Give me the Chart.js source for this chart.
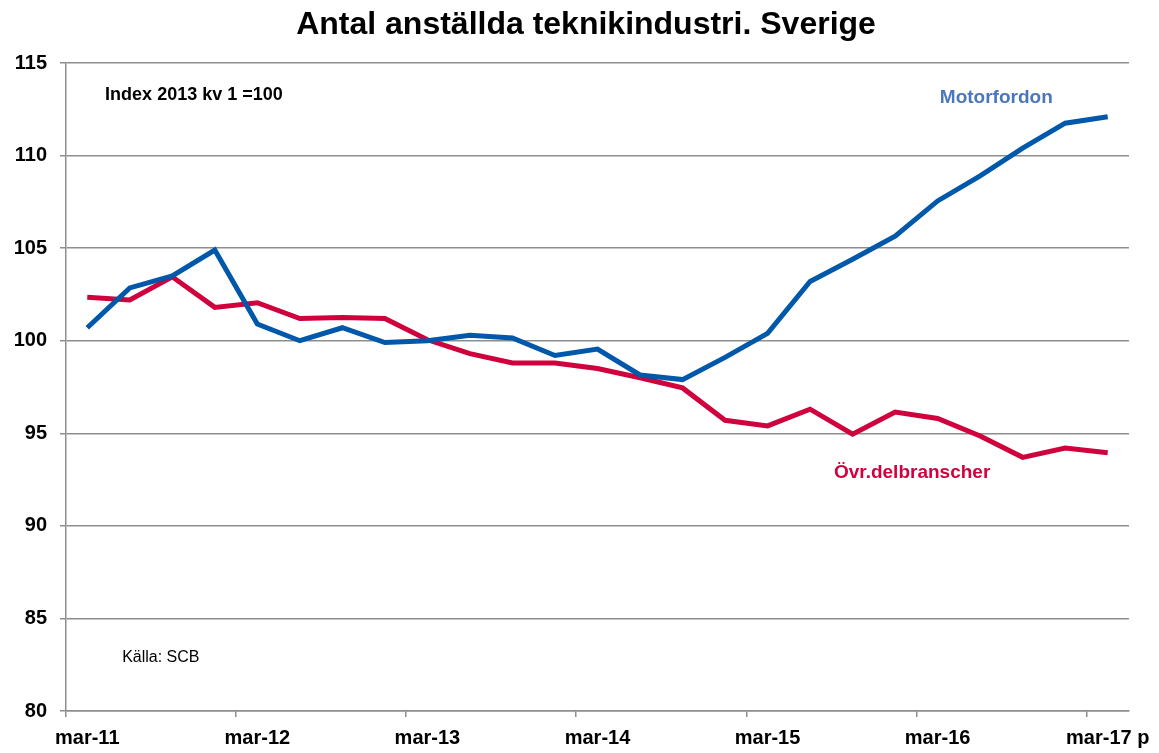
<!DOCTYPE html>
<html>
<head>
<meta charset="utf-8">
<script src="https://cdn.jsdelivr.net/npm/chart.js@4.4.0/dist/chart.umd.min.js"></script>
<style>
  html, body { margin: 0; padding: 0; background: #fff; }
  #wrap { width: 1159px; height: 753px; }
</style>
</head>
<body>
<div id="wrap"><canvas id="chart" width="1159" height="753"></canvas></div>
<script>
// Kvartal mar-11 .. mar-17 (p = preliminärt)
const quarters = [
  'mar-11', 'jun-11', 'sep-11', 'dec-11',
  'mar-12', 'jun-12', 'sep-12', 'dec-12',
  'mar-13', 'jun-13', 'sep-13', 'dec-13',
  'mar-14', 'jun-14', 'sep-14', 'dec-14',
  'mar-15', 'jun-15', 'sep-15', 'dec-15',
  'mar-16', 'jun-16', 'sep-16', 'dec-16',
  'mar-17 p',
];

// Index 2013 kv 1 = 100
const motorfordon = [
  100.7, 102.85, 103.5, 104.9,
  100.9, 100.0, 100.7, 99.9,
  100.0, 100.3, 100.15, 99.2,
  99.55, 98.15, 97.9, 99.1,
  100.4, 103.2, 104.4, 105.65,
  107.55, 108.9, 110.4, 111.75,
  112.1,
];

const ovrDelbranscher = [
  102.35, 102.2, 103.45, 101.8,
  102.05, 101.2, 101.25, 101.2,
  100.05, 99.3, 98.8, 98.8,
  98.5, 98.0, 97.45, 95.7,
  95.4, 96.3, 94.95, 96.15,
  95.8, 94.85, 93.7, 94.2,
  93.95,
];

const yTicks = [80, 85, 90, 95, 100, 105, 110, 115];

const colors = {
  blue: '#0058AA',
  blueText: '#4A76BC',
  red: '#D0023E',
  grid: '#8E8E8E',
};

const FONT = '"Liberation Sans", Arial, sans-serif';
const TITLE = 'Antal anställda teknikindustri. Sverige';

// Text in the plot, anchored to category index / value
const notes = [
  { text: 'Index 2013 kv 1 =100', x: 0.42, y: 113.28, size: 18, bold: true, color: '#000', align: 'left' },
  { text: 'Motorfordon', x: 21.38, y: 113.1, size: 19, bold: true, color: colors.blueText, align: 'center' },
  { text: 'Övr.delbranscher', x: 19.4, y: 92.86, size: 19, bold: true, color: colors.red, align: 'center' },
  { text: 'Källa: SCB', x: 0.82, y: 82.9, size: 16, bold: false, color: '#000', align: 'left' },
];

const notesPlugin = {
  id: 'notes',
  afterDatasetsDraw(chart) {
    const { ctx, scales } = chart;
    ctx.save();
    notes.forEach((n) => {
      ctx.font = (n.bold ? 'bold ' : '') + n.size + 'px ' + FONT;
      ctx.fillStyle = n.color;
      ctx.textAlign = n.align;
      ctx.textBaseline = 'middle';
      ctx.fillText(n.text, scales.x.getPixelForValue(n.x), scales.y.getPixelForValue(n.y));
    });
    // title, centred a bit right of the canvas middle like the original
    ctx.font = 'bold 32px ' + FONT;
    ctx.fillStyle = '#000';
    ctx.textAlign = 'center';
    ctx.textBaseline = 'middle';
    ctx.fillText(TITLE, 586, 25);
    ctx.restore();
  },
};

new Chart(document.getElementById('chart'), {
  type: 'line',
  data: {
    labels: quarters,
    datasets: [
      {
        label: 'Motorfordon',
        data: motorfordon,
        borderColor: colors.blue,
        borderWidth: 5,
        pointRadius: 0,
        tension: 0,
        fill: false,
      },
      {
        label: 'Övr.delbranscher',
        data: ovrDelbranscher,
        borderColor: colors.red,
        borderWidth: 5,
        pointRadius: 0,
        tension: 0,
        fill: false,
      },
    ],
  },
  options: {
    responsive: false,
    animation: false,
    layout: {
      padding: { left: 0, right: 30, top: 63, bottom: 0 },
    },
    plugins: {
      legend: { display: false },
      tooltip: { enabled: false },
      title: { display: false },
    },
    scales: {
      x: {
        type: 'category',
        offset: true,
        afterFit(scale) { scale.height = 42; },
        grid: {
          offset: true,
          drawOnChartArea: false,
          drawTicks: true,
          tickLength: 6,
          color: (ctx) => (ctx.index % 4 === 0 ? colors.grid : 'rgba(0,0,0,0)'),
          lineWidth: 1.5,
        },
        border: { display: true, color: colors.grid, width: 1.5 },
        ticks: {
          autoSkip: false,
          maxRotation: 0,
          color: '#000',
          padding: 9,
          font: { family: FONT, size: 20, weight: 'bold' },
          callback: function (value, index) {
            return index % 4 === 0 ? quarters[index] : '';
          },
        },
      },
      y: {
        min: 80,
        max: 115,
        afterFit(scale) { scale.width = 66; },
        afterBuildTicks(scale) {
          scale.ticks = yTicks.map((v) => ({ value: v }));
        },
        grid: {
          color: colors.grid,
          lineWidth: 1.5,
          drawTicks: true,
          tickLength: 6,
        },
        border: { display: true, color: colors.grid, width: 1.5 },
        ticks: {
          color: '#000',
          padding: 13,
          font: { family: FONT, size: 20, weight: 'bold' },
        },
      },
    },
  },
  plugins: [notesPlugin],
});
</script>
</body>
</html>
